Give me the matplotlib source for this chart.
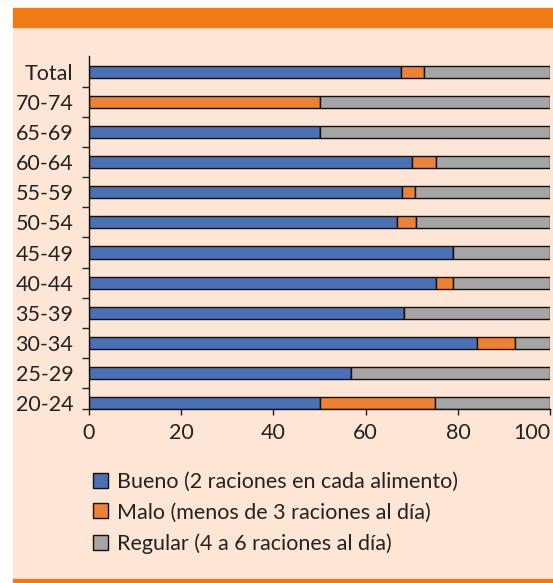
import matplotlib.pyplot as plt
import numpy as np
from matplotlib.patches import Rectangle

plt.rcParams.update({'font.family': ['Lato', 'DejaVu Sans'], 'text.color': '#222222',
                     'axes.labelcolor': '#222222', 'xtick.color': '#222222', 'ytick.color': '#222222'})

grupos = ['20-24', '25-29', '30-34', '35-39', '40-44', '45-49',
          '50-54', '55-59', '60-64', '65-69', '70-74', 'Total']
bueno = [50.0, 56.9, 84.2, 68.4, 75.2, 78.9, 66.7, 67.9, 70.1, 50.0, 0.0, 67.6]
malo = [25.0, 0.0, 8.2, 0.0, 3.7, 0.0, 4.3, 2.8, 5.1, 0.0, 50.0, 5.0]
regular = [100 - b - m for b, m in zip(bueno, malo)]

etiquetas = ['Bueno (2 raciones en cada alimento)',
             'Malo (menos de 3 raciones al día)',
             'Regular (4 a 6 raciones al día)']
colores = ['#4A71B6', '#EE8234', '#A5A5A5']

W, H = 553, 583
fig = plt.figure(figsize=(W / 100, H / 100), dpi=100)
fig.patch.set_facecolor('white')

# fondo y franjas naranjas
fig.patches.append(Rectangle((13 / W, 1 - 579 / H), 1 - 13 / W, (579 - 27) / H,
                             transform=fig.transFigure, color='#FDE6D5', zorder=-2))
fig.patches.append(Rectangle((13 / W, 1 - 27 / H), 1 - 13 / W, 19 / H,
                             transform=fig.transFigure, color='#F07A14', zorder=-2))
fig.patches.append(Rectangle((13 / W, 0), 1 - 13 / W, 4 / H,
                             transform=fig.transFigure, color='#F07A14', zorder=-2))

ax = fig.add_axes([88.7 / W, 1 - 409.3 / H, (550.3 - 88.7) / W, (409.3 - 56) / H])
ax.set_facecolor('none')
ax.set_zorder(1)

y = np.arange(len(grupos))
h = 0.4
left = np.zeros(len(grupos))
for vals, col, lab in zip([bueno, malo, regular], colores, etiquetas):
    ax.barh(y, vals, left=left, height=h, color=col, edgecolor='#111111',
            linewidth=1.0, label=lab)
    left = left + np.array(vals)

ax.set_xlim(0, 100)
ax.set_ylim(-0.21, 11.53)
ax.set_xticks([0, 20, 40, 60, 80, 100])
ax.tick_params(axis='x', labelsize=15.5, length=4, width=1, pad=6)
ax.get_xticklabels()[-1].set_horizontalalignment('right')
ax.set_yticks(y, grupos)
ax.tick_params(axis='y', which='major', labelsize=15.5, length=0, pad=11)
ax.set_yticks(list(np.arange(0.5, 11, 1.0)) + [-0.21], minor=True)
ax.tick_params(axis='y', which='minor', length=5, width=1)

for s in ['top', 'right']:
    ax.spines[s].set_visible(False)
for s in ['left', 'bottom']:
    ax.spines[s].set_color('#111111')
    ax.spines[s].set_linewidth(1.0)

leg = fig.legend(loc='upper left', bbox_to_anchor=(84 / W, 1 - 463 / H), frameon=False,
                 fontsize=15.5, handlelength=0.7, handleheight=0.7, handletextpad=0.45,
                 labelspacing=0.5, borderaxespad=0)
leg.set_zorder(2)

fig.savefig('out.png', dpi=100)
